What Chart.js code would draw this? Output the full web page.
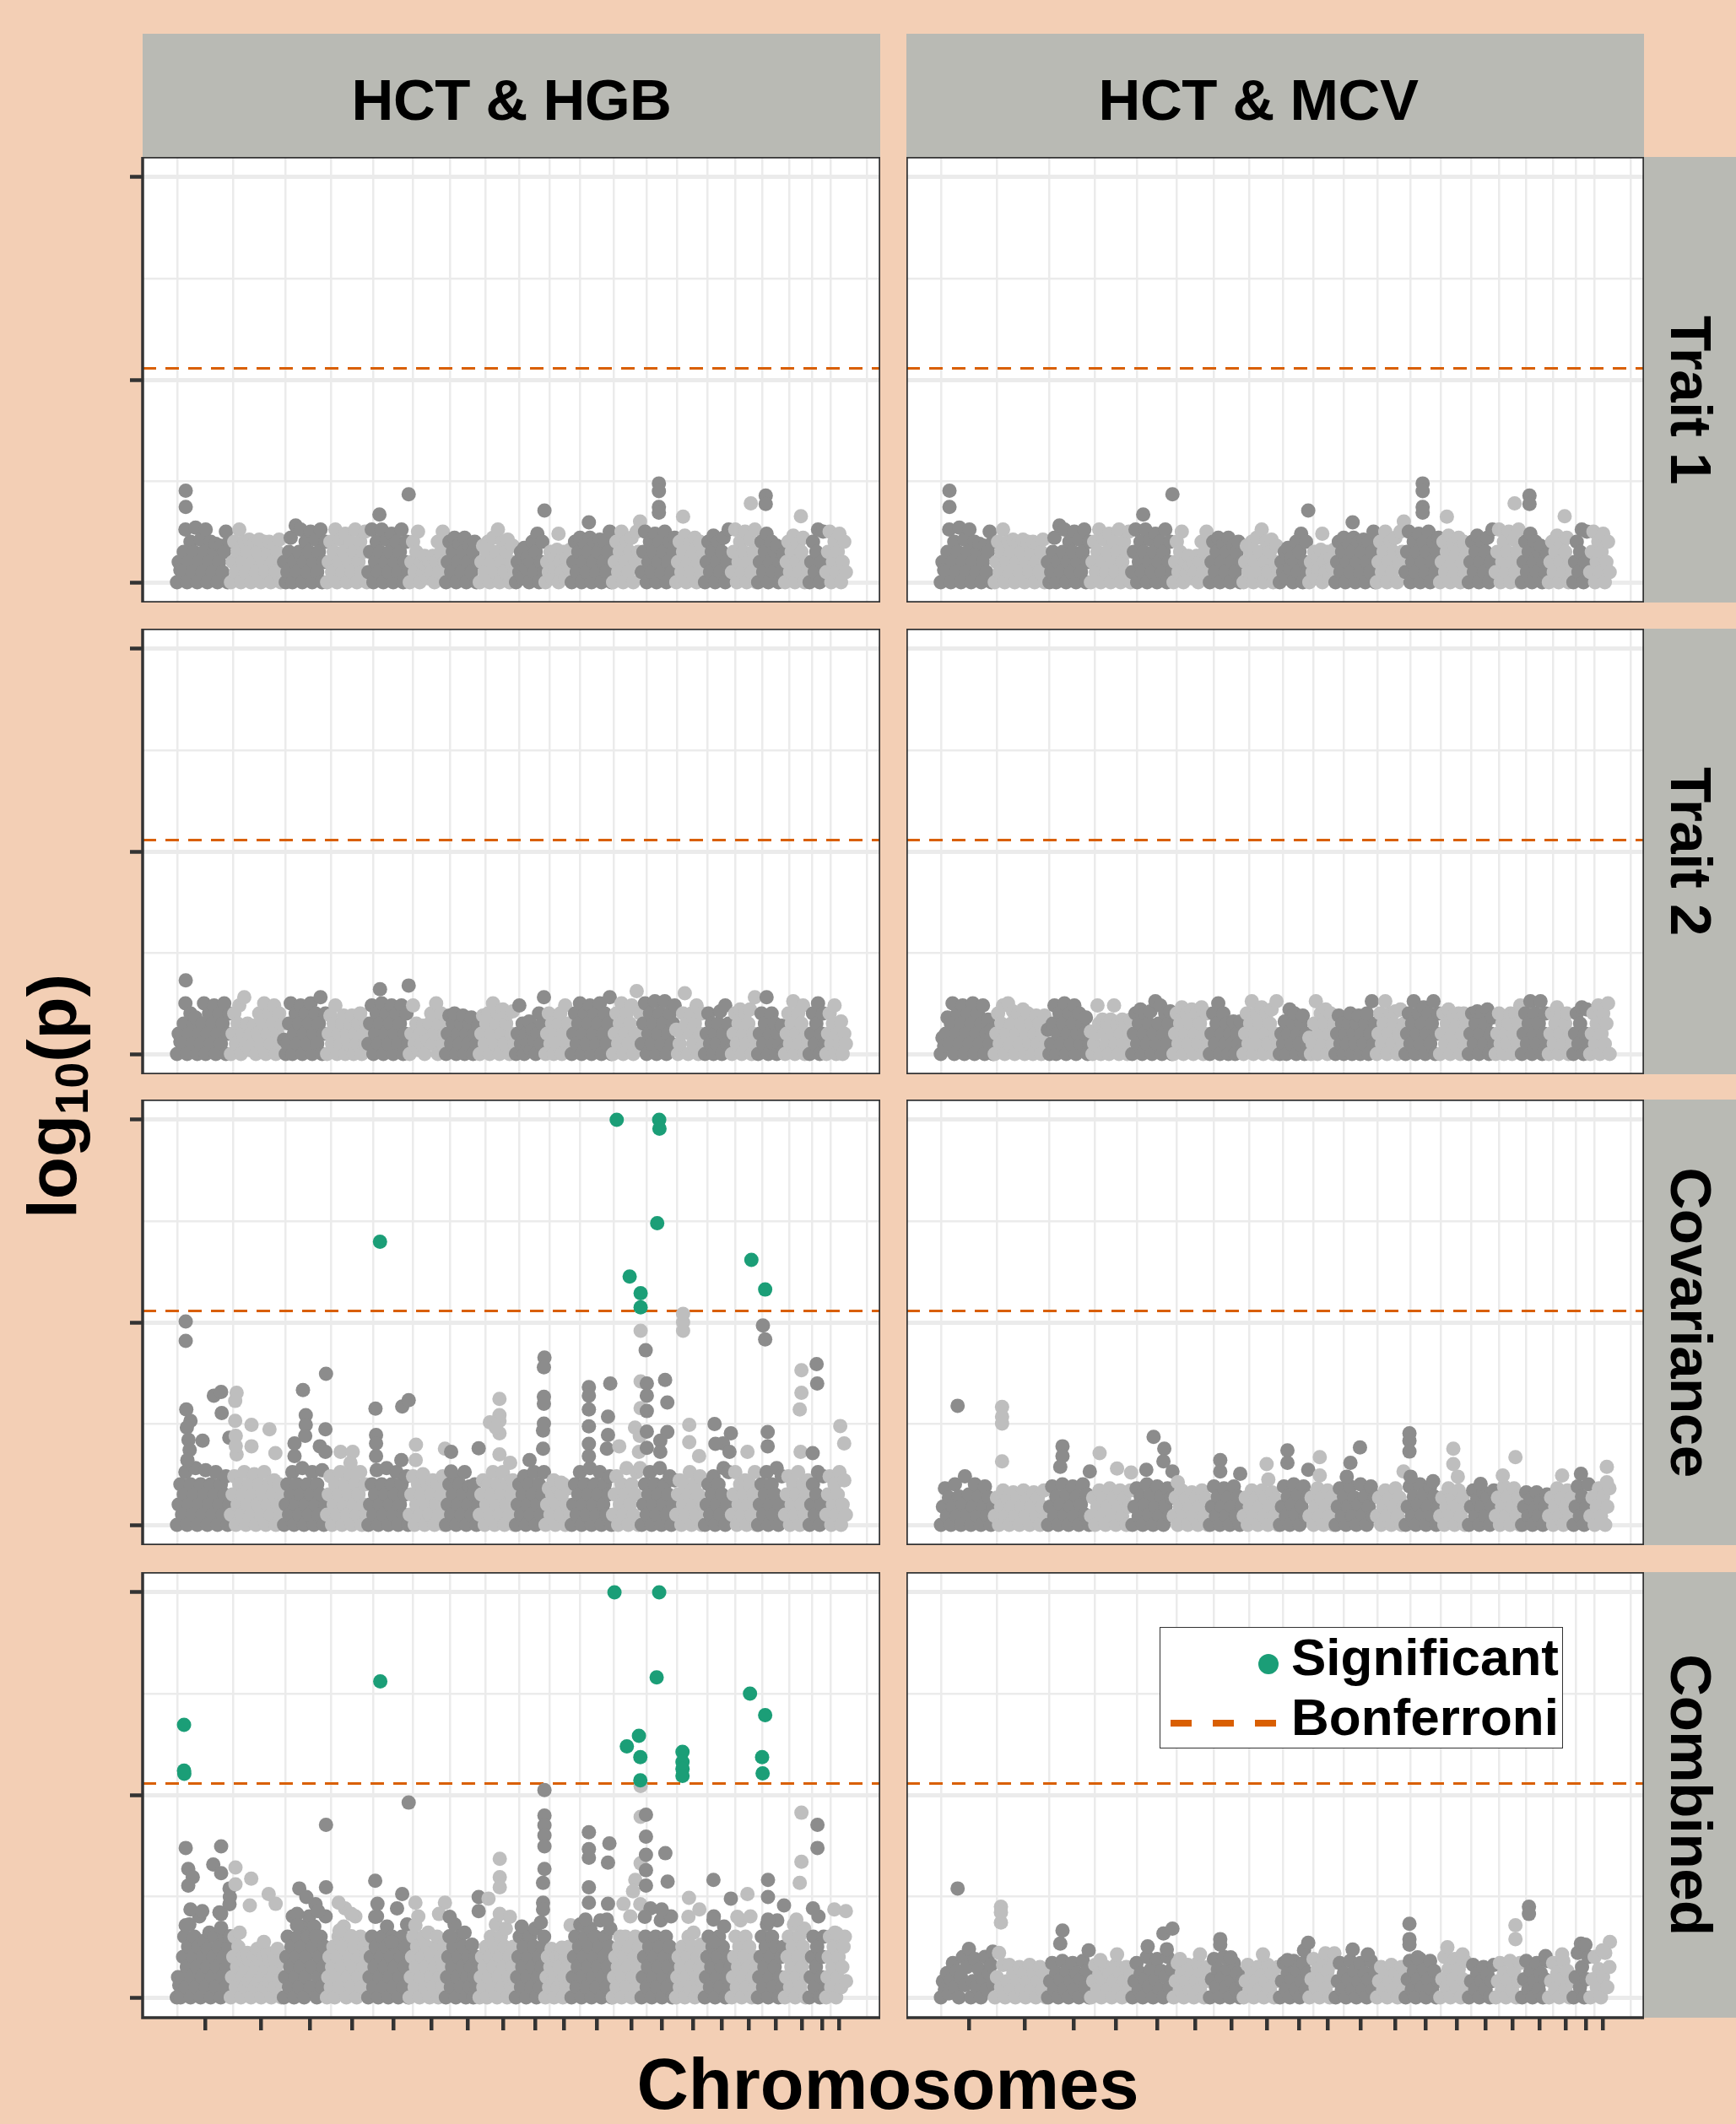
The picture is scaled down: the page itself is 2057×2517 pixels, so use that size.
<!DOCTYPE html>
<html>
<head>
<meta charset="utf-8">
<script src="https://cdn.jsdelivr.net/npm/chart.js@4.4.0/dist/chart.umd.min.js"></script>
<style>
  body { margin: 0; background: #F3CFB5; }
  #page { position: relative; width: 2057px; height: 2517px; overflow: hidden;
          font-family: "Liberation Sans", Arial, sans-serif; font-weight: bold; color: #000; }
  .strip { position: absolute; background: #B9BAB4; overflow: hidden; }
  .col-text { position: absolute; left: 0; right: 0; top: 5px; bottom: -5px; display: flex;
              align-items: center; justify-content: center; font-size: 69px; letter-spacing: -0.5px; white-space: nowrap; }
  .row-text { position: absolute; left: 50%; top: 50%; white-space: nowrap; font-size: 69px;
              line-height: 69px; letter-spacing: -0.5px; }
  .axis-title { position: absolute; white-space: nowrap; }
  .legend-box { position: absolute; background: #fff; border: 1.5px solid #333; box-sizing: border-box; }
  .legend-text { position: absolute; font-size: 62px; line-height: 62px; white-space: nowrap; }
  canvas { position: absolute; }
</style>
</head>
<body>
<div id="page"></div>
<script>
// chromosome sizes (Mb) and the tick position of every chromosome (cumulative Mb)
const chromLengthMb = [192, 189, 153, 147, 147, 129, 120, 129, 105, 93, 147, 102, 123, 102, 96, 93, 96, 87, 60, 75];
const chromTickMb = [104, 302, 476, 626, 774, 909, 1038, 1162, 1276, 1378, 1495, 1619, 1727, 1838, 1941, 2037, 2133, 2226, 2298, 2358];
const yTicks = [0, 5, 10];
const bonferroni = 5.28;

const columnLabels = ['HCT & HGB', 'HCT & MCV'];
const rowLabels = ['Trait 1', 'Trait 2', 'Covariance', 'Combined'];

// -log10(p) of the bulk SNPs, one list per chromosome, in genomic order
const trait1Cloud = [
  [0,.5,.3,.25,.75,1.3,0,.5,1.0,.25,.75,1.35,0,.5,1.05,.25,.75,1.3,0,.5,1.0,.25,.75,.95,0,.5,.9,.25,.75,1.25,0,1.0],
  [0,.5,1.0,.25,.75,1.3,0,.5,1.0,.25,.75,1.05,0,.5,.95,.25,.75,1.05,0,.5,1.0,.25,.7,1.0,0,.5,.95,.25,.75,1.05,0,.5],
  [.5,0,.25,.75,1.1,0,.5,1.4,.25,.75,1.3,0,.5,1.0,.25,.75,1.25,0,.5,1.05,.25,.75,1.3,0,.5,1.0],
  [0,.5,1.0,.25,.75,1.3,0,.5,1.05,.25,.75,1.2,0,.5,1.0,.25,.75,1.3,0,.5,1.0,.25,.75,1.25,0],
  [.25,.75,1.3,0,.5,1.0,.25,.75,1.3,0,.5,1.05,.25,.75,1.2,0,.5,1.0,.25,.75,1.3,0,.5,1.0,.25],
  [0,.5,1.0,.25,.75,1.25,0,.5,.25,.65,.4,.1,.5,.25,.65,0,.5,1.0,.25,.75,1.25,.5],
  [0,.5,1.0,.25,.75,1.1,0,.5,.95,.25,.75,1.1,0,.5,.9,.25,.75,1.0,0,.5],
  [0,.5,.9,.25,.75,1.0,0,.5,1.1,.25,.75,1.3,0,.5,1.0,.25,.75,1.05,0,.5,.9,.25],
  [0,.5,.25,.75,.1,.85,.35,.6,0,.5,1.0,.25,.75,1.2,0,.5,1.0,.25],
  [0,.5,.25,.75,.1,.6,.35,.8,0,.5,.25,.75,.1,.6,.35,.8],
  [0,.5,1.0,.25,.75,1.1,0,.5,.95,.25,.75,1.1,0,.5,1.0,.25,.75,1.05,0,.5,1.0,.25,.75,1.25,0],
  [0,.5,1.0,.25,.75,1.25,0,.5,1.0,.25,.75,1.1,0,.5,1.25,.75,1.5],
  [.25,.75,1.25,0,.5,1.0,.25,.75,1.2,0,.5,1.0,.25,.75,1.25,0,.5,1.0,.25,.75,1.1],
  [0,.5,1.0,.25,.75,1.15,0,.5,.95,.25,.75,1.1,0,.5,1.0,.25,.75],
  [0,.5,1.0,.25,.75,1.15,0,.5,1.0,.25,.75,1.1,0,.5,1.3,.25],
  [.25,.75,1.3,0,.5,1.0,.25,.75,1.25,0,.5,1.05,.25,.75,1.3,0],
  [0,.5,1.0,.25,.75,1.2,0,.5,1.0,.25,.75,.9,0,.5,.25,.7],
  [0,.5,1.0,.25,.75,1.15,0,.5,.95,.25,.75,1.1,0,.5,.25],
  [0,.5,1.0,.25,.75,1.3,0,.5,1.25,.25],
  [.25,.75,1.25,0,.5,1.0,.25,.75,1.2,0,.5,1.0,.25]
];
// stand-out SNPs: [chromosome, position in Mb, -log10(p)]
const trait1Peaks = [
  [1,34,2.26],[1,34,1.86],[5,42,1.67],[5,146,2.17],[9,104,1.77],[10,49,1.2],[11,64,1.48],
  [13,64,2.44],[13,64,2.25],[13,64,1.86],[13,64,1.72],[14,27,1.62],[16,70,1.95],
  [17,30,2.14],[17,30,1.93],[18,59,1.63]
];

const hgbTrait2Cloud = [
  [0,.5,.3,.25,.75,1.25,0,.5,1.0,.25,.75,.9,0,.5,.25,.75,1.25,0,.5,1.0,.25,.75,1.2,0,.5,1.0,.25,.75,1.25,0,.5,1.0],
  [0,.5,1.0,.25,.75,1.2,0,.5,1.4,.25,.75,.1,.5,.25,.7,0,.5,1.0,.25,.75,1.25,0,.5,1.0,.25,.75,1.2,0,.5,1.0,.25,.75],
  [.35,0,.25,.75,1.25,0,.5,1.0,.25,.75,1.2,0,.5,1.0,.25,.75,1.25,0,.5,1.0,.25,.75,1.4,0,.5,1.0],
  [0,.5,.95,.25,.75,1.2,0,.5,.25,.75,.95,0,.5,.25,.75,.95,0,.5,.25,.75,1.0,0,.5,.25,.75],
  [.25,.75,1.2,0,.5,1.0,.25,.75,1.25,0,.5,1.0,.25,.75,1.2,0,.5,1.0,.25,.75,1.2,0,.5,1.0,.25],
  [0,.5,1.2,.25,.75,.1,.5,.25,.7,0,.5,.35,.75,1.0,.25,.5,1.25,0,.75,1.0,.25,.5],
  [0,.5,.95,.25,.75,1.0,0,.5,.25,.75,.95,0,.5,.25,.75,.9,0,.5,.25,.7],
  [0,.5,.95,.25,.75,1.0,0,.5,1.25,.25,.75,1.0,0,.5,1.1,.25,.75,1.0,0,.5,1.05,.25],
  [0,.5,1.2,.25,.75,0,.5,.25,.8,.1,.6,.35,0,.5,1.0,.25,.75,1.4],
  [0,.5,1.0,.25,.75,0,.5,.25,.75,1.0,0,.5,1.2,.25,.75,.1],
  [0,.5,1.0,.25,.75,1.25,0,.5,1.0,.25,.75,1.2,0,.5,1.0,.25,.75,1.25,0,.5,1.0,.25,.75,1.4,0],
  [0,.5,1.0,.25,.75,1.25,0,.5,1.0,.25,.75,1.2,0,.5,1.55,.25,1.0],
  [.25,.75,1.25,0,.5,1.0,.25,.75,1.3,0,.5,1.0,.25,.75,1.3,0,.5,1.0,.25,.75,1.2],
  [.6,0,.25,.5,1.0,1.5,.75,0,.5,1.0,.25,.75,1.2,0,.5,1.0,.25],
  [0,.5,1.0,.25,.75,0,.5,.25,.75,1.05,0,.5,1.2,.25,.75,.1],
  [0,.5,1.0,.25,.75,1.1,0,.5,1.0,.25,.75,1.1,0,.5,1.4,.25],
  [0,.5,1.0,.25,.75,1.4,0,.5,1.0,.25,.75,0,.5,.25,.7,.1],
  [0,.5,1.0,.25,.75,1.3,0,.5,1.0,.25,.75,1.2,0,.5,.25],
  [0,.5,1.0,.25,.75,1.25,0,.5,1.0,.25],
  [0,.5,1.0,.25,.75,1.2,0,.5,.25,.8,0,.5,.25]
];
const hgbTrait2Peaks = [[1,34,1.82],[5,44,1.6],[5,146,1.69]];

const mcvTrait2Cloud = [
  [0,.4,.2,.5,.9,.25,.75,1.25,0,.5,1.0,.25,.75,1.2,0,.5,1.0,.25,.75,1.25,0,.5,1.0,.25,.75,1.2,0,.5,.85,.25,.6,0],
  [0,.5,1.0,.25,.75,1.2,0,.5,1.25,.25,.75,1.05,0,.5,1.0,.25,.75,1.1,0,.5,1.0,.25,.75,0,.5,.95,.25,.75,0,.5,.95,.25],
  [.6,0,.25,.75,1.2,0,.5,1.0,.25,.75,1.25,0,.5,1.0,.25,.75,1.2,0,.5,1.0,.25,.75,.5,.9,0,.25],
  [.55,0,.25,.5,1.2,.75,0,.85,.5,.25,.75,0,.85,.5,1.2,.25,.75,0,.5,.85,.25,.75,0,.5,.85],
  [0,.5,1.0,.25,.75,1.1,0,.5,1.0,.25,.75,1.05,0,.5,1.3,.25,.75,1.2,0,.5,1.0,.25,.75,1.05,0],
  [0,.5,1.0,.25,.75,1.15,0,.5,1.0,.25,.75,1.1,0,.5,1.0,.25,.75,1.15,0,.5,1.0,.25],
  [0,.5,1.0,.25,.75,1.25,0,.5,1.0,.25,.75,0,.5,.25,.8,0,.5,.25,.8,.1],
  [0,.5,1.0,.25,.75,1.3,0,.5,1.0,.25,.75,1.15,0,.5,1.0,.25,.75,1.1,0,.5,1.3,.25],
  [0,.5,.25,.8,0,.5,1.1,.25,.75,1.0,0,.5,.25,.75,.95,0,.5,.25],
  [.4,0,.25,.75,1.3,0,.5,1.0,.25,.75,1.1,0,.5,1.0,.25,.75],
  [0,.5,.95,.25,.75,0,.5,.25,.75,1.0,0,.5,.25,.75,.95,0,.5,.25,.75,1.0,0,.5,1.3,.25,.75],
  [0,.5,1.0,.25,.75,1.3,0,.5,1.0,.25,.75,1.05,0,.5,1.1,.25,.75],
  [0,.5,1.0,.25,.75,1.3,0,.5,1.0,.25,.75,1.15,0,.5,1.0,.25,.75,1.3,0,.5,1.0],
  [0,.5,1.0,.25,.75,1.1,0,.5,.95,.25,.75,1.0,0,.5,1.0,.25,.75],
  [0,.5,1.0,.25,.75,1.05,0,.5,1.0,.25,.75,1.1,0,.5,.9,.25],
  [0,.5,1.0,.25,.75,0,.5,.25,.75,1.0,0,.5,1.0,.25,.75,1.2],
  [0,.5,1.0,.25,.75,1.3,0,.5,1.0,.25,.75,1.3,0,.5,1.0,.25],
  [0,.5,1.0,.25,.75,1.15,0,.5,1.0,.25,.75,1.0,0,.5,.25],
  [0,.5,1.0,.25,.75,1.15,0,.5,1.1,.25],
  [0,.5,1.0,.25,.75,1.2,0,.5,1.0,.25,.75,1.25,0]
];
const mcvTrait2Peaks = [];

const hgbCovCloud = [
  [0,.5,1.0,.25,.75,1.3,0,.5,1.0,.25,.75,1.4,0,.5,1.0,.25,.75,1.35,0,.5,1.0,.25,.75,1.3,0,.5,1.0,.25,.75,1.2,0,.5],
  [.25,.75,1.2,0,.5,1.0,.25,.75,1.3,0,.5,1.0,.25,.75,1.25,0,.5,1.0,.25,.75,1.3,0,.5,1.0,.25,.75,1.1,0,.5,1.0,.25,.75],
  [0,.5,1.0,.25,.75,1.3,0,.5,1.0,.25,.75,1.4,0,.5,1.0,.25,.75,1.3,0,.5,1.0,.25,.75,1.35,0,.5],
  [.25,.75,1.2,0,.5,1.0,.25,.75,1.3,0,.5,1.0,.25,.75,1.25,0,.5,1.0,.25,.75,1.3,0,.5,1.0,.25],
  [0,.5,1.0,.25,.75,1.35,0,.5,1.0,.25,.75,1.4,0,.5,1.0,.25,.75,1.3,0,.5,1.0,.25,.75,1.2,0],
  [.25,.75,1.2,0,.5,1.0,.25,.75,1.25,0,.5,1.0,.25,.75,1.1,0,.5,1.0,.25,.75,1.2,0],
  [0,.5,1.0,.25,.75,1.2,0,.5,1.0,.25,.75,1.3,0,.5,.95,.25,.75,1.0,0,.5],
  [.25,.75,1.1,0,.5,1.0,.25,.75,1.3,0,.5,1.0,.25,.75,1.3,0,.5,1.0,.25,.75,1.1,0],
  [0,.5,1.0,.25,.75,1.2,0,.5,1.0,.25,.75,1.3,0,.5,1.0,.25,.75,1.3],
  [0,.5,.9,.25,.75,1.1,0,.5,.9,.25,.75,1.0,0,.5,.9,.25],
  [0,.5,1.0,.25,.75,1.3,0,.5,1.0,.25,.75,1.4,0,.5,1.0,.25,.75,1.3,0,.5,1.0,.25,.75,1.2,0],
  [.25,.75,1.2,0,.5,1.0,.25,.75,1.4,0,.5,1.0,.25,.75,1.3,0,1.4],
  [0,.5,1.0,.25,.75,1.3,0,.5,1.0,.25,.75,1.4,0,.5,1.0,.25,.75,1.2,0,.5,1.1],
  [.25,.75,1.1,0,.5,1.0,.25,.75,1.3,0,.5,1.0,.25,.75,1.2,0,.5],
  [0,.5,1.0,.25,.75,1.2,0,.5,1.0,.25,.75,1.4,0,.5,1.3,.25],
  [.25,.75,1.3,0,.5,1.0,.25,.75,1.1,0,.5,1.0,.25,.75,1.3,0],
  [0,.5,1.0,.25,.75,1.3,0,.5,1.0,.25,.75,1.4,0,.5,1.2,.25],
  [.25,.75,1.2,0,.5,1.0,.25,.75,1.3,0,.5,1.0,.25,.75,1.1],
  [0,.5,1.0,.25,.75,1.3,0,.5,1.2,.25],
  [.25,.75,1.2,0,.5,1.0,.25,.75,1.3,0,.5,1.1,.25]
];
const hgbCovPeaks = [
  [1,34,5.02],[1,34,4.54],[1,36,2.85],[1,51,2.57],[1,94,2.08],[1,134,3.19],[1,160,3.28],[1,162,2.76],
  [1,189,2.15],[1,38,2.4],[1,44,2.1],[1,48,1.85],[1,40,1.6],
  [2,23,3.26],[2,18,3.06],[2,18,2.57],[2,76,2.47],[2,140,2.36],[2,161,1.77],[2,76,1.94],[2,23,1.74],
  [2,20,2.2],[2,20,1.95],
  [3,70,3.33],[3,80,2.71],[3,80,2.47],[3,40,2.01],[3,150,2.36],[3,130,1.94],[3,152,3.73],[3,40,1.7],
  [3,78,2.2],[3,150,1.8],
  [4,51,1.8],[4,94,1.8],[4,86,1.53],
  [5,28,2.87],[5,30,2.22],[5,30,2.01],[5,123,2.92],[5,146,3.08],[5,30,1.7],[5,120,1.6],[5,44,6.99],
  [6,25,1.98],[6,24,1.6],[6,128,1.88],
  [7,21,1.8],[7,21,1.32],[7,119,1.89],
  [8,73,3.11],[8,73,2.71],[8,73,2.57],[8,39,2.53],[8,73,2.26],[8,73,1.74],[8,111,1.53],[8,60,2.4],
  [9,104,4.13],[9,102,3.89],[9,102,3.16],[9,102,2.99],[9,102,2.5],[9,99,2.33],[9,99,1.88],[9,51,1.6],
  [10,58,1.04],
  [11,64,3.4],[11,64,3.19],[11,64,2.85],[11,64,2.43],[11,140,3.49],[11,132,2.67],[11,132,2.22],
  [11,128,1.88],[11,64,2.0],[11,64,1.7],
  [12,101,4.79],[12,101,3.54],[12,101,2.88],[12,81,2.4],[12,25,1.94],[12,98,2.2],[12,95,1.8],
  [12,16,10.0],[12,62,6.13],[12,101,5.72],[12,101,5.37],
  [13,17,4.31],[13,21,3.49],[13,21,3.19],[13,21,2.81],[13,86,3.58],[13,94,3.02],[13,94,2.29],
  [13,69,2.08],[13,69,1.8],[13,21,2.3],[13,21,1.9],[13,65,10.0],[13,66,9.78],[13,58,7.45],
  [14,27,5.21],[14,27,5.0],[14,27,4.79],[14,49,2.47],[14,49,2.04],[14,84,1.7],
  [15,37,2.49],[15,95,2.26],[15,67,2.01],[15,40,2.0],[15,90,1.8],
  [16,58,1.8],[16,72,6.54],
  [17,20,4.92],[17,28,4.58],[17,37,2.29],[17,37,1.94],[17,28,5.81],
  [18,61,3.82],[18,61,3.26],[18,55,2.85],[18,58,1.8],
  [19,28,3.97],[19,30,3.49],[19,14,1.77],
  [20,52,2.44],[20,66,2.01]
];

const mcvCovCloud = [
  [0,.45,.9,.22,.67,0,.45,1.0,.22,.7,0,.5,1.2,.25,.75,0,.45,1.0,.22,.7,0,.45,.95,.22,.67,0,.45],
  [.22,.67,0,.45,.85,.22,.65,0,.45,.8,.22,.67,0,.45,.85,.22,.65,0,.45,.8,.22,.67,0,.45,.85,.22],
  [0,.45,.95,.22,.7,0,.5,1.0,.25,.75,0,.45,.95,.22,.7,0,.5,1.0,.25,.75,0],
  [.22,.67,0,.45,.85,.22,.65,0,.45,.9,.22,.67,0,.45,.85,.22,.65,0,.45,.85],
  [0,.45,.9,.22,.7,0,.5,1.0,.25,.75,0,.45,.95,.22,.7,0,.45,.9,.22,.67],
  [.22,.67,0,.45,.85,.22,.65,0,.45,.8,.22,.67,0,.45,.85,.22,.65,0],
  [0,.45,.95,.22,.7,0,.45,.9,.22,.67,0,.45,.95,.22,.7,0,.45],
  [.22,.67,0,.45,.85,.22,.65,0,.45,.85,.22,.67,0,.45,.8,.22,.65,0],
  [0,.45,.95,.22,.7,0,.5,1.0,.25,.75,0,.45,.95,.22,.7],
  [.22,.67,0,.45,.9,.22,.65,0,.45,.85,.22,.67,0],
  [0,.45,.9,.22,.7,0,.45,.95,.22,.67,0,.5,1.0,.25,.7,0,.45,.95,.22,.7],
  [.22,.67,0,.45,.85,.22,.65,0,.45,.9,.22,.67,0,.45],
  [0,.45,.95,.22,.7,0,.5,1.0,.25,.75,0,.45,.95,.22,.7,0,.45],
  [.22,.67,0,.45,.9,.22,.65,0,.45,.85,.22,.67,0,.45],
  [0,.45,.85,.22,.65,0,.45,.8,.22,.67,0,.45,.85],
  [.22,.67,0,.45,.95,.22,.7,0,.45,.9,.22,.67,0],
  [0,.45,.8,.22,.65,0,.4,.8,.22,.6,0,.45,.75],
  [.22,.67,0,.45,.9,.22,.65,0,.45,.85,.22,.67],
  [0,.45,.95,.22,.7,0,.45,1.0],
  [.22,.67,0,.45,.9,.22,.7,0,.45,.9]
];
const mcvCovPeaks = [
  [1,63,2.94],
  [2,29,2.91],[2,29,2.67],[2,29,2.5],[2,29,1.57],
  [3,55,1.94],[3,55,1.7],[3,47,1.43],[3,152,1.32],
  [4,34,1.77],[4,96,1.39],[4,146,1.29],
  [5,79,2.17],[5,117,1.88],[5,114,1.57],[5,53,1.36],[5,146,1.32],
  [6,18,1.05],
  [7,40,1.6],[7,40,1.32],[7,111,1.26],
  [8,85,1.5],[8,91,1.12],
  [9,30,1.84],[9,30,1.53],[9,104,1.36],
  [10,40,1.67],[10,40,1.22],
  [11,90,1.91],[11,56,1.53],[11,43,1.19],
  [12,98,1.32],
  [13,17,2.26],[13,17,2.08],[13,17,1.81],[13,21,1.19],[13,101,1.08],
  [14,50,1.88],[14,50,1.5],[14,66,1.19],
  [15,45,1.01],
  [16,73,1.67],[16,28,1.22],
  [18,50,1.22],
  [19,30,1.26],
  [20,62,1.43],[20,62,1.05]
];

const hgbCombCloud = [
  [0,.5,.3,0,.5,1.0,1.5,.25,.75,1.25,1.8,0,.5,1.0,1.5,.25,.75,1.25,2.0,0,.5,1.0,1.4,.25,.75,1.2,1.6,0,.5,1.0,1.5,.25,.75,1.25,2.1,0,.5,1.0,1.5,.25,.75,1.25,2.3],
  [0,.5,1.0,1.5,.25,.75,1.25,1.6,0,.5,1.0,.25,.75,1.1,.4,.9,0,.5,1.0,.25,.75,1.2,.4,.9,0,.5,1.0,.25,.75,1.1,.4,.9,0,.5,1.0,.25,.75,1.2,.4,.9,0,.5],
  [0,.5,1.0,1.5,.25,.75,1.25,2.0,0,.5,1.0,1.5,.25,.75,1.25,1.75,0,.5,1.0,1.5,2.0,.25,.75,1.25,1.75,2.3,0,.5,1.0,1.5,.25,.75,1.25,2.0],
  [0,.5,1.0,.25,.75,1.25,0,.5,1.0,1.5,.25,.75,1.25,1.75,2.2,0,.5,1.0,1.5,.25,.75,1.25,2.0,0,.5,1.0,1.5,.25,.75,1.25,1.1,.4],
  [0,.5,1.0,1.5,.25,.75,1.25,2.0,0,.5,1.0,1.5,.25,.75,1.25,1.75,0,.5,1.0,1.5,.25,.75,1.25,2.2,0,.5,1.0,1.5,.25,.75,1.25,1.8,0],
  [0,.5,1.0,1.5,.25,.75,1.25,2.0,0,.5,1.0,1.5,.25,.75,1.25,1.6,0,.5,1.0,.25,.75,1.25,1.5,0,.5,1.0,.25,.75,1.3],
  [0,.5,1.0,1.5,.25,.75,1.25,1.8,0,.5,1.0,1.5,.25,.75,1.25,1.6,0,.5,1.0,.25,.75,1.3,0,.5,1.0,.25,.75],
  [0,.5,1.0,.25,.75,1.25,0,.5,1.0,1.5,.25,.75,1.25,1.8,0,.5,1.0,1.5,.25,.75,1.25,1.7,0,.5,1.0,.25,.75,1.25,.4],
  [0,.5,1.0,1.5,.25,.75,1.25,1.6,0,.5,1.0,1.5,.25,.75,1.25,1.7,0,.5,1.0,.25,.75,1.25,1.5],
  [0,.5,1.0,.25,.75,1.2,.4,0,.5,1.0,.25,.75,1.1,.4,0,.5,1.0,.25,.75,1.25,.4],
  [0,.5,1.0,1.5,.25,.75,1.25,1.8,0,.5,1.0,1.5,.25,.75,1.25,1.7,0,.5,1.0,1.5,.25,.75,1.25,1.9,0,.5,1.0,1.5,.25,.75,1.25,1.7,0],
  [0,.5,1.0,.25,.75,1.25,1.5,0,.5,1.0,1.5,.25,.75,1.25,2.0,0,.5,1.0,1.5,.25,.75,1.25,2.3],
  [0,.5,1.0,1.5,.25,.75,1.25,2.2,0,.5,1.0,1.5,.25,.75,1.25,1.9,0,.5,1.0,1.5,.25,.75,1.25,2.0,0,.5,1.0],
  [0,.5,1.0,.25,.75,1.25,.4,0,.5,1.0,1.5,.25,.75,1.25,1.6,0,.5,1.0,.25,.75,1.3,.4,.9],
  [0,.5,1.0,1.5,.25,.75,1.25,2.0,0,.5,1.0,1.5,.25,.75,1.25,1.75,0,.5,1.0,.25,.75],
  [0,.5,1.0,1.5,.25,.75,1.25,1.9,0,.5,1.0,1.5,.25,.75,1.25,2.0,0,.5,1.0,.25,.75],
  [0,.5,1.0,1.5,.25,.75,1.25,1.8,0,.5,1.0,1.5,.25,.75,1.25,1.9,0,.5,1.0,.25,1.25],
  [0,.5,1.0,1.5,.25,.75,1.25,1.8,0,.5,1.0,1.5,.25,.75,1.25,1.7,0,.5,1.0],
  [0,.5,1.0,1.5,.25,.75,1.25,2.0,0,.5,1.0,1.5,.25],
  [0,.5,1.0,1.5,.25,.75,1.25,1.6,0,.5,1.0,1.5,.25,.75,1.25,1.5,.4]
];
const hgbCombPeaks = [
  [1,34,3.69],[1,43,3.17],[1,59,2.97],[1,43,2.76],[1,51,2.17],[1,93,2.13],[1,34,1.78],[1,160,3.73],
  [1,132,3.28],[1,160,3.07],[1,190,2.69],[1,191,2.48],[1,160,2.06],[1,160,1.72],[1,191,1.51],
  [1,28,6.73],[1,28,5.6],[1,29,5.52],
  [2,19,3.21],[2,75,2.93],[2,19,2.79],[2,137,2.55],[2,162,2.31],[2,70,2.27],[2,120,1.37],
  [3,152,4.26],[3,152,2.72],[3,57,2.69],[3,82,2.48],[3,49,2.06],[3,124,2.13],[3,49,1.78],[3,116,1.51],
  [4,44,2.34],[4,89,2.06],[4,47,1.65],[4,89,1.51],
  [5,27,2.88],[5,123,2.55],[5,35,2.31],[5,27,1.99],[5,86,1.37],[5,146,4.81],[5,45,7.8],
  [6,23,2.34],[6,23,1.78],[6,128,2.34],[6,107,2.06],
  [7,16,1.99],[7,16,1.51],[7,119,2.48],[7,119,2.13],
  [8,74,3.42],[8,74,2.97],[8,74,2.72],[8,34,2.44],[8,74,2.06],[8,110,1.99],
  [9,104,5.12],[9,104,4.49],[9,104,4.25],[9,104,4.0],[9,104,3.73],[9,104,3.17],[9,99,2.83],
  [9,99,2.34],[9,99,2.17],[9,91,1.85],[9,23,1.75],
  [10,92,1.78],[10,61,1.23],
  [11,64,4.08],[11,64,3.66],[11,64,3.45],[11,64,2.72],[11,64,2.34],[11,137,3.8],[11,132,3.33],
  [11,132,2.31],[11,52,1.92],[11,128,1.92],
  [12,101,4.46],[12,101,3.31],[12,101,5.22],[12,82,2.9],[12,74,2.62],[12,40,2.31],
  [12,8,10.0],[12,52,6.2],[12,95,6.46],[12,100,5.93],[12,100,5.36],
  [13,18,4.51],[13,18,3.97],[13,18,3.52],[13,18,3.14],[13,18,2.76],[13,14,1.99],[13,87,3.56],
  [13,95,2.86],[13,74,2.17],[13,65,10.0],[13,56,7.9],
  [14,48,2.46],[14,46,1.99],[14,85,2.17],[14,25,6.06],[14,25,5.81],[14,25,5.64],[14,25,5.47],
  [15,33,2.9],[15,33,1.92],[15,33,1.37],[15,95,2.44],
  [16,58,2.55],[16,22,1.99],[16,67,7.5],
  [17,38,2.9],[17,38,2.48],[17,38,1.92],[17,95,2.27],[17,28,6.97],[17,17,5.93],[17,19,5.53],
  [18,61,4.56],[18,61,3.35],[18,55,2.83],[18,43,1.92],
  [19,31,4.26],[19,31,3.69],[19,15,2.2],
  [20,31,2.17],[20,72,2.13],[20,39,1.58]
];

const mcvCombCloud = [
  [0,.4,.2,.6,.1,.45,.85,.25,.65,0,.5,1.0,.3,.75,1.2,0,.4,.95,.25,.7,0,.45,1.0,.2,.6,.8,.35],
  [0,.5,1.1,.25,.8,0,.4,.8,.2,.6,0,.4,.75,.2,.6,0,.4,.8,.2,.6,0,.4,.75,.2,.6,0],
  [0,.4,.85,.2,.6,0,.45,.9,.2,.65,0,.4,.85,.2,.6,0,.45,.9,.25,.65,0],
  [0,.4,.8,.2,.6,0,.4,.75,.2,.6,0,.4,.8,.2,.6,0,.4,.75,.2,.55],
  [0,.4,.85,.2,.6,0,.45,1.0,.25,.7,0,.45,.95,.2,.65,0,.5,1.0,.25,.7],
  [0,.4,.85,.2,.6,0,.4,.8,.2,.6,0,.4,.85,.2,.6,0,.4,.75],
  [0,.45,.95,.25,.7,0,.5,1.0,.25,.7,0,.4,.85,.2,.6,0,.4],
  [0,.4,.8,.2,.6,0,.4,.75,.2,.55,0,.4,.8,.2,.6,0,.4,.75],
  [0,.4,.85,.2,.6,0,.45,.9,.2,.65,0,.4,.85,.2,.6],
  [0,.45,.95,.25,.7,0,.45,.9,.2,.65,0,.4,.85],
  [0,.4,.85,.2,.6,0,.45,.9,.2,.65,0,.4,.85,.2,.6,0,.45,.9,.2,.65],
  [0,.4,.75,.2,.55,0,.4,.8,.2,.6,0,.4,.75,.2],
  [0,.45,.9,.2,.65,0,.45,.95,.25,.7,0,.45,.9,.2,.65,0,.4],
  [0,.45,1.0,.25,.7,0,.45,.95,.25,.7,0,.45,.9,.2],
  [0,.4,.8,.2,.6,0,.4,.75,.2,.55,0,.4,.8],
  [0,.4,.85,.2,.6,0,.45,.9,.2,.65,0,.4,.85],
  [0,.45,.9,.2,.65,0,.4,.85,.2,.6,0,.45,.9],
  [0,.4,.85,.2,.6,0,.45,.9,.2,.65,0,.4],
  [0,.5,1.1,.25,.75,0,.45,1.0],
  [0,.45,1.0,.25,.7,0,.5,1.1,.25,.75]
];
const mcvCombPeaks = [
  [1,63,2.69],[1,188,1.13],
  [2,25,2.24],[2,25,2.1],[2,25,1.85],
  [3,55,1.65],[3,47,1.33],[3,148,1.16],
  [4,96,1.06],[4,37,0.92],
  [5,58,1.26],[5,114,1.58],[5,146,1.7],[5,126,1.19],
  [6,26,0.95],[6,97,1.06],
  [7,40,1.44],[7,40,1.3],[7,77,0.99],
  [8,72,1.06],
  [9,30,0.92],[9,89,1.16],[9,104,1.35],
  [10,60,1.09],[10,92,1.09],
  [11,64,1.18],[11,118,1.06],
  [13,17,1.82],[13,17,1.44],[13,17,1.3],[13,46,0.99],
  [14,29,1.24],[14,83,1.06],
  [16,73,1.78],[16,73,1.44],
  [17,28,2.24],[17,28,2.06],[17,87,1.02],
  [18,50,1.06],
  [19,30,1.33],[19,46,1.3],
  [20,73,1.37],[20,46,1.16]
];

const panels = [
  { row: 0, col: 0, cloud: trait1Cloud, peaks: trait1Peaks },
  { row: 0, col: 1, cloud: trait1Cloud, peaks: trait1Peaks },
  { row: 1, col: 0, cloud: hgbTrait2Cloud, peaks: hgbTrait2Peaks },
  { row: 1, col: 1, cloud: mcvTrait2Cloud, peaks: mcvTrait2Peaks },
  { row: 2, col: 0, cloud: hgbCovCloud, peaks: hgbCovPeaks },
  { row: 2, col: 1, cloud: mcvCovCloud, peaks: mcvCovPeaks },
  { row: 3, col: 0, cloud: hgbCombCloud, peaks: hgbCombPeaks },
  { row: 3, col: 1, cloud: mcvCombCloud, peaks: mcvCombPeaks }
];

// layout (px)
const colLeft = [169, 1074];
const rowTop = [186, 745, 1303, 1863];
const panelW = 874, panelH = 528, tickLen = 15;
const stripTop = 40, stripH = 146, rowStripLeft = 1948, rowStripW = 109;
const colLabelShift = [0, -20];
const rowLabelShift = [24, 0, 0, 0];

const darkGrey = '#8C8C8C', lightGrey = '#BEBEBE', sigGreen = '#1B9E77', bonfOrange = '#D95F02';
const gridColor = '#EBEBEB', frameColor = '#333333';

const chromStartMb = [];
chromLengthMb.reduce((acc, len) => { chromStartMb.push(acc); return acc + len; }, 0);
const genomeMb = chromLengthMb.reduce((a, b) => a + b, 0);
const xMin = -0.05 * genomeMb, xMax = genomeMb * 1.05;
const yMin = yTicks[0] - 0.05 * (yTicks[2] - yTicks[0]);
const yMax = yTicks[2] + 0.05 * (yTicks[2] - yTicks[0]);

// ggplot style minor breaks: halfway between majors, extended one step beyond
function minorBreaks(major, lo, hi) {
  const step = major[1] - major[0];
  const b = major.slice();
  if (lo < b[0]) b.unshift(b[0] - step);
  if (hi > b[b.length - 1]) b.push(b[b.length - 1] + step);
  const out = [];
  for (let i = 0; i < b.length - 1; i++) out.push((b[i] + b[i + 1]) / 2);
  return out.filter(v => v >= lo && v <= hi && !major.includes(v));
}
const xMinor = minorBreaks(chromTickMb, xMin, xMax);
const yMinor = minorBreaks(yTicks, yMin, yMax);
const xMajorSet = new Set(chromTickMb);
const yMajorSet = new Set(yTicks);

function buildPoints(cloud, peaks) {
  const grey = [], colors = [], sig = [];
  chromLengthMb.forEach((len, i) => {
    const start = chromStartMb[i];
    const col = i % 2 ? lightGrey : darkGrey;
    const vals = cloud[i];
    vals.forEach((v, k) => {
      grey.push({ x: start + (k + 0.5) * len / vals.length, y: v });
      colors.push(col);
    });
    peaks.filter(p => p[0] === i + 1).forEach(p => {
      const pt = { x: start + p[1], y: p[2] };
      if (p[2] > bonferroni) sig.push(pt);
      else { grey.push(pt); colors.push(col); }
    });
  });
  return { grey, colors, sig };
}

const panelFrame = {
  id: 'panelFrame',
  beforeDraw(chart) {
    const { ctx, chartArea: a } = chart;
    ctx.save();
    ctx.fillStyle = '#ffffff';
    ctx.fillRect(a.left, a.top, a.right - a.left, a.bottom - a.top);
    ctx.restore();
  },
  afterDraw(chart) {
    const { ctx, chartArea: a } = chart;
    ctx.save();
    ctx.strokeStyle = frameColor;
    ctx.lineWidth = 3.5;
    ctx.strokeRect(a.left, a.top, a.right - a.left, a.bottom - a.top);
    ctx.restore();
  }
};

const page = document.getElementById('page');

function makePanel(p) {
  const isLeft = p.col === 0;
  const isBottom = p.row === rowLabels.length - 1;
  const w = panelW + (isLeft ? tickLen : 0);
  const h = panelH + (isBottom ? tickLen : 0);
  const canvas = document.createElement('canvas');
  canvas.width = w;
  canvas.height = h;
  canvas.style.left = (colLeft[p.col] - (isLeft ? tickLen : 0)) + 'px';
  canvas.style.top = rowTop[p.row] + 'px';
  canvas.style.width = w + 'px';
  canvas.style.height = h + 'px';
  page.appendChild(canvas);

  const pts = buildPoints(p.cloud, p.peaks);

  new Chart(canvas, {
    type: 'scatter',
    data: {
      datasets: [
        {
          label: 'Significant',
          data: pts.sig,
          pointBackgroundColor: sigGreen,
          pointBorderWidth: 0,
          pointRadius: 8.5,
          order: 1
        },
        {
          label: 'SNP',
          data: pts.grey,
          pointBackgroundColor: pts.colors,
          pointBorderWidth: 0,
          pointRadius: 8.5,
          order: 2
        },
        {
          type: 'line',
          label: 'Bonferroni',
          data: [{ x: xMin, y: bonferroni }, { x: xMax, y: bonferroni }],
          borderColor: bonfOrange,
          borderWidth: 3,
          borderDash: [16, 11],
          pointRadius: 0,
          fill: false,
          order: 3
        }
      ]
    },
    options: {
      responsive: false,
      maintainAspectRatio: false,
      devicePixelRatio: 1,
      animation: false,
      events: [],
      layout: { padding: 0, autoPadding: false },
      plugins: { legend: { display: false }, tooltip: { enabled: false } },
      scales: {
        x: {
          type: 'linear',
          min: xMin,
          max: xMax,
          afterBuildTicks: axis => { axis.ticks = chromTickMb.concat(xMinor).map(v => ({ value: v })); },
          ticks: { display: false },
          border: { display: false },
          grid: {
            color: c => xMajorSet.has(c.tick.value) ? 'rgba(0,0,0,0)' : gridColor,
            lineWidth: 2.5,
            drawTicks: isBottom,
            tickLength: tickLen,
            tickColor: c => xMajorSet.has(c.tick.value) ? frameColor : 'rgba(0,0,0,0)',
            tickWidth: 4.5
          }
        },
        y: {
          type: 'linear',
          min: yMin,
          max: yMax,
          afterBuildTicks: axis => { axis.ticks = yTicks.concat(yMinor).map(v => ({ value: v })); },
          ticks: { display: false },
          border: { display: false },
          grid: {
            color: gridColor,
            lineWidth: c => yMajorSet.has(c.tick.value) ? 5 : 2.5,
            drawTicks: isLeft,
            tickLength: tickLen,
            tickColor: c => yMajorSet.has(c.tick.value) ? frameColor : 'rgba(0,0,0,0)',
            tickWidth: 4.5
          }
        }
      }
    },
    plugins: [panelFrame]
  });
}

function addDiv(cls, styles, html) {
  const d = document.createElement('div');
  if (cls) d.className = cls;
  Object.assign(d.style, styles);
  if (html !== undefined) d.innerHTML = html;
  page.appendChild(d);
  return d;
}

// facet strips
columnLabels.forEach((label, c) => {
  const s = addDiv('strip', { left: colLeft[c] + 'px', top: stripTop + 'px', width: panelW + 'px', height: stripH + 'px' });
  const t = document.createElement('div');
  t.className = 'col-text';
  t.textContent = label;
  t.style.left = colLabelShift[c] + 'px';
  t.style.right = (-colLabelShift[c]) + 'px';
  s.appendChild(t);
});
rowLabels.forEach((label, r) => {
  const s = addDiv('strip', { left: rowStripLeft + 'px', top: rowTop[r] + 'px', width: rowStripW + 'px', height: panelH + 'px' });
  const t = document.createElement('div');
  t.className = 'row-text';
  t.textContent = label;
  t.style.transform = 'translate(-50%, calc(-50% + ' + rowLabelShift[r] + 'px)) rotate(90deg)';
  s.appendChild(t);
});

panels.forEach(makePanel);

// axis titles
addDiv('axis-title', { left: '1052px', top: '2469px', fontSize: '85px', lineHeight: '85px', transform: 'translate(-50%, -50%)' }, 'Chromosomes');
addDiv('axis-title', { left: '66px', top: '1299px', fontSize: '82px', lineHeight: '82px', transform: 'translate(-50%, -50%) rotate(-90deg)' },
  'log<span style="font-size:56px; position:relative; top:14px">10</span>(p)');

// legend inside the bottom-right panel
addDiv('legend-box', { left: '1374px', top: '1928px', width: '478px', height: '144px' });
addDiv('', { position: 'absolute', left: '1491px', top: '1960px', width: '24px', height: '24px', borderRadius: '50%', background: sigGreen });
addDiv('', { position: 'absolute', left: '1387px', top: '2038px', width: '125px', height: '8px',
  background: 'repeating-linear-gradient(90deg, ' + bonfOrange + ' 0 25px, transparent 25px 50px)' });
addDiv('legend-text', { left: '1530px', top: '1933px' }, 'Significant');
addDiv('legend-text', { left: '1530px', top: '2004px' }, 'Bonferroni');
</script>
</body>
</html>
